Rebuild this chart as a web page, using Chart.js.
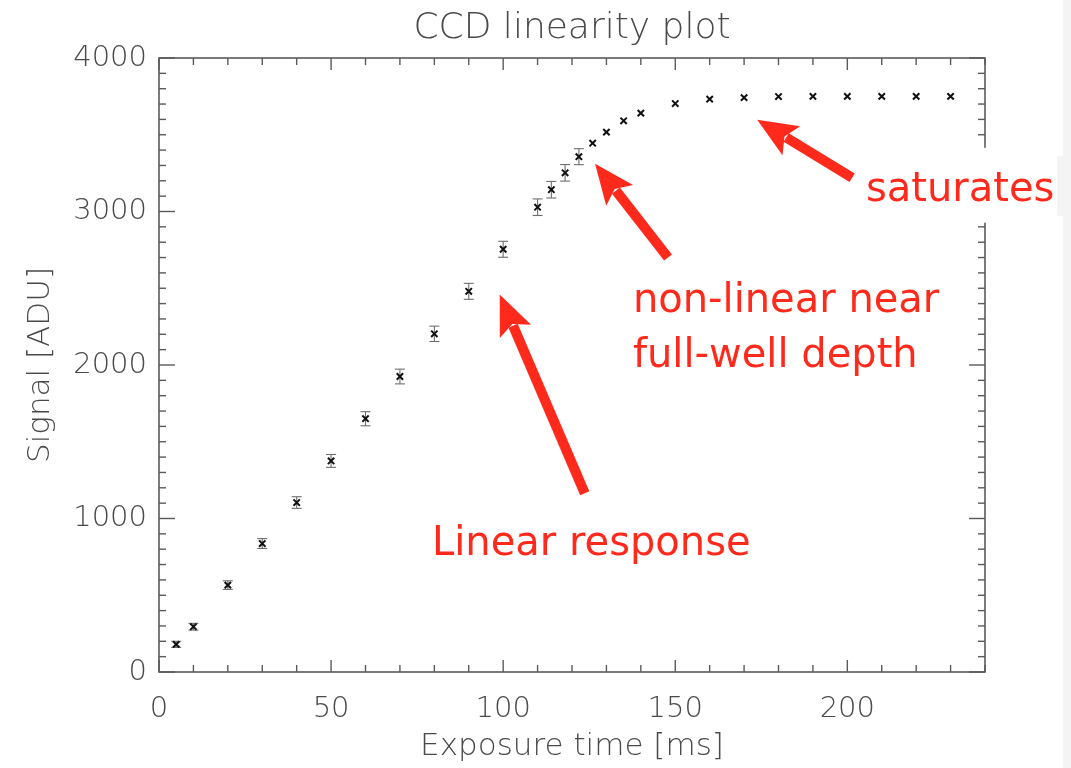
<!DOCTYPE html>
<html>
<head>
<meta charset="utf-8">
<script src="https://cdn.jsdelivr.net/npm/chart.js@4.4.1/dist/chart.umd.min.js"></script>
<style>
  html, body { margin: 0; padding: 0; background: #ffffff; }
  #wrap { position: relative; width: 1071px; height: 768px; }
  canvas { display: block; }
</style>
</head>
<body>
<div id="wrap"><canvas id="c" width="1071" height="768"></canvas></div>
<script>
// ---- data ----
const exposureMs = [5, 10, 20, 30, 40, 50, 60, 70, 80, 90, 100, 110, 114, 118, 122, 126, 130, 135, 140, 150, 160, 170, 180, 190, 200, 210, 220, 230];
const signalADU  = [180, 295, 566, 837, 1104, 1375, 1650, 1925, 2203, 2480, 2754, 3028, 3142, 3252, 3357, 3445, 3517, 3591, 3641, 3703, 3732, 3742, 3749, 3750, 3750, 3750, 3750, 3750];
const signalErr  = [20, 22, 28, 32, 38, 42, 46, 48, 50, 52, 52, 54, 54, 54, 52, 0, 0, 0, 0, 0, 0, 0, 0, 0, 0, 0, 0, 0];

const xTickLabels = [0, 50, 100, 150, 200];
const yTickLabels = [0, 1000, 2000, 3000, 4000];
const xRange = [0, 240];
const yRange = [0, 4000];
const xMinorStep = 10;
const yMinorStep = 100;

const titleText = 'CCD linearity plot';
const xTitle = 'Exposure time [ms]';
const yTitle = 'Signal [ADU]';

// annotations (anchored in data coordinates)
const arrows = [
  { from: [201.4, 3220], to: [173.8, 3597] },   // saturates
  { from: [147.9, 2700], to: [126.7, 3311] },   // non-linear
  { from: [123.7, 1164], to: [99.0, 2459] }     // linear
];
const notes = [
  { text: 'saturates',       at: [205.4, 3070] },
  { text: 'non-linear near', at: [137.7, 2348] },
  { text: 'full-well depth', at: [137.7, 1984] },
  { text: 'Linear response', at: [79.3, 761] }
];

const AXIS_COLOR = '#5a5a5a';
const TEXT_COLOR = '#4a4a4a';
const RED = '#ff2a1c';
const FONT = '"DejaVu Sans", "Liberation Sans", sans-serif';

function seg(ctx, x1, y1, x2, y2) {
  ctx.beginPath(); ctx.moveTo(x1, y1); ctx.lineTo(x2, y2); ctx.stroke();
}

const framePlugin = {
  id: 'idlFrame',
  beforeDatasetsDraw(chart) {
    const { ctx, chartArea: a, scales: { x, y } } = chart;
    ctx.save();
    ctx.strokeStyle = AXIS_COLOR;
    ctx.lineWidth = 1.6;
    ctx.strokeRect(a.left, a.top, a.right - a.left, a.bottom - a.top);
    ctx.lineWidth = 1.4;
    // x ticks (bottom & top, inward)
    for (let v = xRange[0]; v <= xRange[1] + 1e-9; v += xMinorStep) {
      const px = x.getPixelForValue(v);
      const len = (v % 50 === 0) ? 12 : 7;
      seg(ctx, px, a.bottom, px, a.bottom - len);
      seg(ctx, px, a.top, px, a.top + len);
    }
    // y ticks (left & right, inward)
    for (let v = yRange[0]; v <= yRange[1] + 1e-9; v += yMinorStep) {
      const py = y.getPixelForValue(v);
      const len = (v % 1000 === 0) ? 16 : 7;
      seg(ctx, a.left, py, a.left + len, py);
      seg(ctx, a.right, py, a.right - len, py);
    }
    // error bars
    ctx.strokeStyle = '#6e6e6e';
    ctx.lineWidth = 1.1;
    for (let i = 0; i < exposureMs.length; i++) {
      const e = signalErr[i];
      if (!e) continue;
      const px = x.getPixelForValue(exposureMs[i]);
      const pt = y.getPixelForValue(signalADU[i] + e);
      const pb = y.getPixelForValue(signalADU[i] - e);
      seg(ctx, px, pt, px, pb);
      seg(ctx, px - 5, pt, px + 5, pt);
      seg(ctx, px - 5, pb, px + 5, pb);
    }
    ctx.restore();
  },
  afterDraw(chart) {
    const { ctx, chartArea: a, scales: { x, y } } = chart;
    ctx.save();
    // title
    ctx.fillStyle = TEXT_COLOR;
    ctx.font = '200 36px ' + FONT;
    ctx.textAlign = 'center';
    ctx.textBaseline = 'alphabetic';
    ctx.fillText(titleText, (a.left + a.right) / 2, 38);
    // axis titles
    ctx.font = '200 31px ' + FONT;
    ctx.fillText(xTitle, (a.left + a.right) / 2, 755);
    ctx.save();
    ctx.translate(49, (a.top + a.bottom) / 2);
    ctx.rotate(-Math.PI / 2);
    ctx.fillText(yTitle, 0, 0);
    ctx.restore();

    // light grey page edge
    ctx.fillStyle = '#f4f4f4';
    ctx.fillRect(1063, 0, 8, 768);
    // white label box behind "saturates" (covers right axis)
    const sx = x.getPixelForValue(notes[0].at[0]);
    const sy = y.getPixelForValue(notes[0].at[1]);
    ctx.fillStyle = '#ffffff';
    ctx.fillRect(sx - 20, sy - 53, 1057 - (sx - 20), 75);
    ctx.fillStyle = '#f4f4f4';
    ctx.fillRect(1057, sy - 45, 14, 60);

    // arrows
    ctx.fillStyle = RED;
    ctx.strokeStyle = RED;
    for (const ar of arrows) {
      const x1 = x.getPixelForValue(ar.from[0]), y1 = y.getPixelForValue(ar.from[1]);
      const x2 = x.getPixelForValue(ar.to[0]),   y2 = y.getPixelForValue(ar.to[1]);
      const ang = Math.atan2(y2 - y1, x2 - x1);
      const headLen = 40, headHalf = 17;
      const bx = x2 - headLen * Math.cos(ang), by = y2 - headLen * Math.sin(ang);
      ctx.lineWidth = 10;
      ctx.lineCap = 'butt';
      seg(ctx, x1, y1, bx + 6 * Math.cos(ang), by + 6 * Math.sin(ang));
      ctx.beginPath();
      ctx.moveTo(x2, y2);
      ctx.lineTo(bx + headHalf * Math.sin(ang), by - headHalf * Math.cos(ang));
      ctx.lineTo(bx + 8 * Math.cos(ang), by + 8 * Math.sin(ang));
      ctx.lineTo(bx - headHalf * Math.sin(ang), by + headHalf * Math.cos(ang));
      ctx.closePath();
      ctx.fill();
    }
    // notes
    ctx.fillStyle = RED;
    ctx.font = '40px "Comic Sans MS", ' + FONT;
    ctx.textAlign = 'left';
    ctx.textBaseline = 'alphabetic';
    for (const n of notes) {
      ctx.fillText(n.text, x.getPixelForValue(n.at[0]), y.getPixelForValue(n.at[1]));
    }
    ctx.restore();
  }
};

new Chart(document.getElementById('c'), {
  type: 'scatter',
  data: {
    datasets: [{
      label: 'Signal',
      data: exposureMs.map((t, i) => ({ x: t, y: signalADU[i] })),
      pointStyle: 'crossRot',
      pointRadius: 4.5,
      pointHoverRadius: 4.5,
      borderColor: '#111111',
      backgroundColor: '#111111',
      borderWidth: 2
    }]
  },
  options: {
    responsive: false,
    devicePixelRatio: 1,
    animation: false,
    events: [],
    layout: { padding: { top: 58, right: 86, bottom: 0, left: 0 } },
    plugins: { legend: { display: false }, tooltip: { enabled: false }, title: { display: false } },
    scales: {
      x: {
        type: 'linear',
        min: xRange[0], max: xRange[1],
        afterFit(s) { s.height = 96; },
        afterBuildTicks(s) { s.ticks = xTickLabels.map(v => ({ value: v })); },
        grid: { display: false, drawTicks: false },
        border: { display: false },
        ticks: { color: TEXT_COLOR, font: { family: FONT, size: 29, weight: '200' }, padding: 20, maxRotation: 0, autoSkip: false,
                 callback: v => String(v) }
      },
      y: {
        type: 'linear',
        min: yRange[0], max: yRange[1],
        afterFit(s) { s.width = 159; },
        afterBuildTicks(s) { s.ticks = yTickLabels.map(v => ({ value: v })); },
        grid: { display: false, drawTicks: false },
        border: { display: false },
        ticks: { color: TEXT_COLOR, font: { family: FONT, size: 29, weight: '200' }, padding: 12, autoSkip: false,
                 callback: v => String(v) }
      }
    }
  },
  plugins: [framePlugin]
});
</script>
</body>
</html>
